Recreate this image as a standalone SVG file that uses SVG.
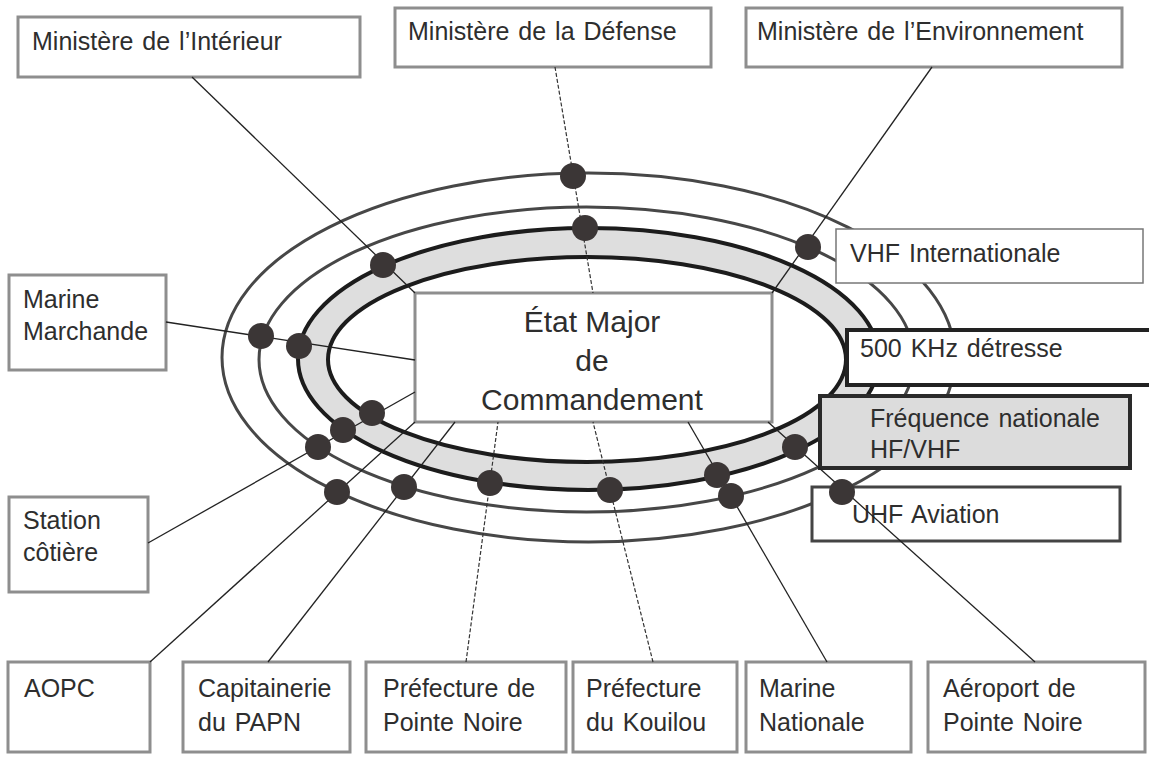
<svg xmlns="http://www.w3.org/2000/svg" width="1149" height="759" viewBox="0 0 1149 759">
<style>
.box{fill:#fff;stroke:#8e8e8e;stroke-width:3}
.t{font-family:"Liberation Sans",Arial,sans-serif;font-size:25px;word-spacing:2px;fill:#2e2e2e}
.big{font-family:"Liberation Sans",Arial,sans-serif;font-size:30px;fill:#2e2e2e;text-anchor:middle}
.ring{fill:none;stroke:#474747;stroke-width:3}
.ringb{stroke:#1c1c1c;stroke-width:4}
.ln{stroke:#222;stroke-width:1.3;fill:none}
.dl{stroke:#333;stroke-width:1.2;stroke-dasharray:4 2;fill:none}
.dot{fill:#3b3636}
</style>
<rect width="1149" height="759" fill="#fff"/>
<g id="rings">
<ellipse class="ring" cx="588.5" cy="357.5" rx="366.5" ry="184.5"/>
<ellipse class="ring" cx="586.5" cy="359.5" rx="327.5" ry="152.5"/>
<ellipse class="ringb" fill="#dedede" cx="588.5" cy="359" rx="290.5" ry="131"/>
<ellipse class="ringb" fill="#fff" cx="587" cy="359.5" rx="259" ry="102.5"/>
</g>
<g id="n-etat"><rect class="box" x="415" y="293" width="357" height="129"/>
<text class="big" x="592" y="332">État Major</text><text class="big" x="592" y="371">de</text><text class="big" x="592" y="410">Commandement</text></g>
<g id="n-interieur"><rect class="box" x="18" y="17" width="342" height="60"/><text class="t" x="32" y="50">Ministère de l’Intérieur</text></g>
<g id="n-defense"><rect class="box" x="395" y="8" width="316" height="59"/><text class="t" x="408" y="40">Ministère de la Défense</text></g>
<g id="n-environnement"><rect class="box" x="746" y="8" width="376" height="59"/><text class="t" x="757" y="40">Ministère de l’Environnement</text></g>
<g id="n-vhf"><rect x="836" y="229" width="307" height="54" fill="#fff" stroke="#777" stroke-width="1.5"/><text class="t" x="850" y="262">VHF Internationale</text></g>
<g id="n-500"><rect x="847" y="330" width="315" height="55" fill="#fff" stroke="#222" stroke-width="4"/><text class="t" x="860" y="357">500 KHz détresse</text></g>
<g id="n-freq"><rect x="820" y="396" width="310" height="72" fill="#dcdcdc" stroke="#2a2a2a" stroke-width="4"/><text class="t" x="870" y="427">Fréquence nationale</text><text class="t" x="870" y="458">HF/VHF</text></g>
<g id="n-uhf"><rect x="812" y="487" width="308" height="54" fill="#fff" stroke="#444" stroke-width="3"/><text class="t" x="852" y="523">UHF Aviation</text></g>
<g id="n-marchande"><rect class="box" x="9" y="275" width="157" height="95"/><text class="t" x="23" y="308">Marine</text><text class="t" x="23" y="340">Marchande</text></g>
<g id="n-station"><rect class="box" x="9" y="497" width="139" height="95"/><text class="t" x="23" y="529">Station</text><text class="t" x="23" y="561">côtière</text></g>
<g id="n-aopc"><rect class="box" x="8" y="662" width="142" height="90"/><text class="t" x="24" y="697">AOPC</text></g>
<g id="n-capitainerie"><rect class="box" x="183" y="662" width="167" height="90"/><text class="t" x="198" y="697">Capitainerie</text><text class="t" x="198" y="731">du PAPN</text></g>
<g id="n-prefpn"><rect class="box" x="366" y="662" width="200" height="90"/><text class="t" x="383" y="697">Préfecture de</text><text class="t" x="383" y="731">Pointe Noire</text></g>
<g id="n-kouilou"><rect class="box" x="573" y="662" width="164" height="90"/><text class="t" x="586" y="697">Préfecture</text><text class="t" x="586" y="731">du Kouilou</text></g>
<g id="n-marinenat"><rect class="box" x="746" y="662" width="165" height="90"/><text class="t" x="759" y="697">Marine</text><text class="t" x="759" y="731">Nationale</text></g>
<g id="n-aeroport"><rect class="box" x="928" y="662" width="217" height="90"/><text class="t" x="943" y="697">Aéroport de</text><text class="t" x="943" y="731">Pointe Noire</text></g>
<g id="connectors">
<line class="ln" x1="192" y1="77" x2="415" y2="293"/>
<line class="dl" x1="555" y1="67" x2="593" y2="293"/>
<line class="ln" x1="932" y1="67" x2="772" y2="293"/>
<line class="ln" x1="166" y1="322" x2="415" y2="360"/>
<line class="ln" x1="148" y1="543" x2="415" y2="392"/>
<line class="ln" x1="150" y1="662" x2="415" y2="422"/>
<line class="ln" x1="268" y1="662" x2="455" y2="422"/>
<line class="dl" x1="466" y1="662" x2="498" y2="422"/>
<line class="dl" x1="653" y1="662" x2="593" y2="422"/>
<line class="ln" x1="827" y1="662" x2="688" y2="422"/>
<line class="ln" x1="1035" y1="662" x2="768" y2="422"/>
</g>
<g id="dots">
<circle class="dot" cx="573" cy="176" r="13"/>
<circle class="dot" cx="585" cy="228" r="13"/>
<circle class="dot" cx="383" cy="265" r="13"/>
<circle class="dot" cx="808" cy="247" r="13"/>
<circle class="dot" cx="261" cy="336" r="13"/>
<circle class="dot" cx="299" cy="346" r="13"/>
<circle class="dot" cx="372" cy="413" r="13"/>
<circle class="dot" cx="343" cy="430" r="13"/>
<circle class="dot" cx="318" cy="447" r="13"/>
<circle class="dot" cx="337" cy="492" r="13"/>
<circle class="dot" cx="404" cy="487" r="13"/>
<circle class="dot" cx="490" cy="483" r="13"/>
<circle class="dot" cx="610" cy="490" r="13"/>
<circle class="dot" cx="717" cy="475" r="13"/>
<circle class="dot" cx="731" cy="496" r="13"/>
<circle class="dot" cx="795" cy="447" r="13"/>
<circle class="dot" cx="842" cy="492" r="13"/>
</g>
</svg>
